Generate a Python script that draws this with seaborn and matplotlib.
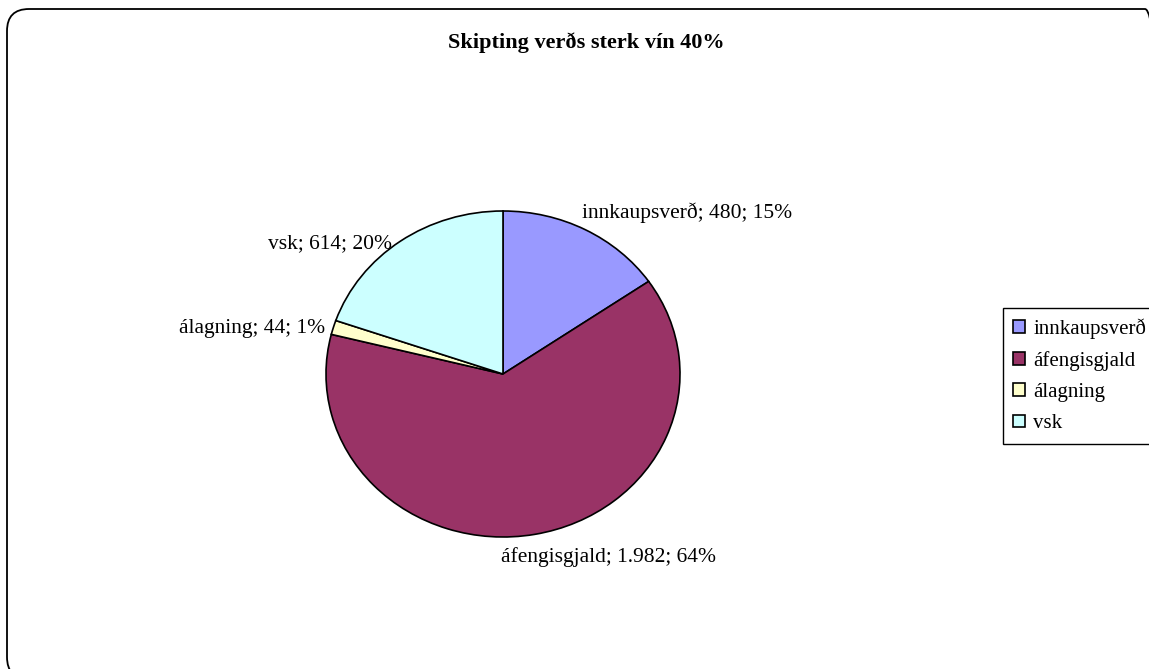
import matplotlib
matplotlib.use("Agg")
import matplotlib.pyplot as plt
import seaborn as sns
import numpy as np
from matplotlib.patches import FancyBboxPatch
from matplotlib.transforms import IdentityTransform

sns.set_style("white")
plt.rcParams['font.family'] = ['Liberation Serif', 'DejaVu Serif']
plt.rcParams['text.color'] = 'black'

# data
categories = ['innkaupsverð', 'áfengisgjald', 'álagning', 'vsk']
values = [480, 1982, 44, 614]
value_text = ['480', '1.982', '44', '614']
colors = ['#9999FF', '#993366', '#FFFFCC', '#CCFFFF']

W, H = 1149, 669
fig = plt.figure(figsize=(W / 100, H / 100), dpi=100)

# pie is slightly stretched horizontally, like the original
cx, cy, rx, ry = 503, 374, 177, 163
ax = fig.add_axes([(cx - rx) / W, (H - cy - ry) / H, 2 * rx / W, 2 * ry / H])
wedges, _ = ax.pie(values, colors=colors, startangle=90, counterclock=False,
                   wedgeprops=dict(edgecolor='black', linewidth=1.2))
ax.set_aspect('auto')
ax.set_xlim(-1, 1)
ax.set_ylim(-1, 1)
for w in wedges:
    w.set_clip_on(False)

# data labels: "name; value; pct"
total = sum(values)
offsets = [(-3, 17, 'left'), (-34, -23, 'left'), (-8, -1, 'right'), (-8, -3, 'right')]
for w, name, vt, v, (dx, dy, ha) in zip(wedges, categories, value_text, values, offsets):
    mid = np.deg2rad((w.theta1 + w.theta2) / 2)
    ax.annotate(f'{name}; {vt}; {round(100 * v / total)}%',
                xy=(np.cos(mid), np.sin(mid)), xytext=(dx, dy),
                textcoords='offset pixels', ha=ha, va='center', fontsize=15.5, color='black')

fig.text(586 / W, 1 - 43 / H, 'Skipting verðs sterk vín 40%', ha='center', va='center',
         fontsize=16, fontweight='bold', color='black')

leg = fig.legend(wedges, categories, loc='upper left', bbox_to_anchor=(1003 / W, 1 - 308 / H),
                 frameon=True, fancybox=False, edgecolor='black', framealpha=1,
                 borderaxespad=0, handlelength=0.55, handleheight=0.55, handletextpad=0.4,
                 labelspacing=0.58, borderpad=0.5, fontsize=15, labelcolor='black')
leg.get_frame().set_linewidth(1.0)

# rounded chart-area border
border = FancyBboxPatch((7, -10), 1160, 670, boxstyle='round,pad=0,rounding_size=22',
                        transform=IdentityTransform(), fill=False, edgecolor='black', linewidth=1.3)
fig.add_artist(border)

fig.savefig('out.png', dpi=100)
